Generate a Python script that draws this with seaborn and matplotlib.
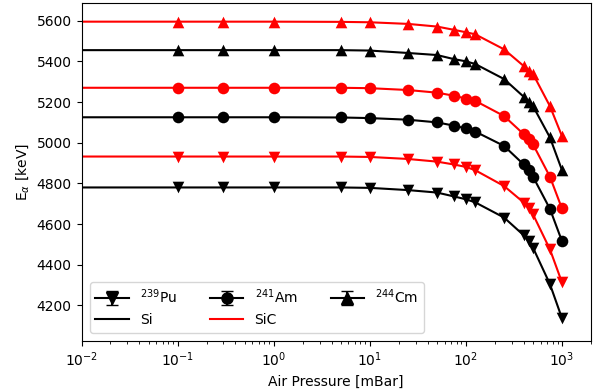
import numpy as np
import pandas as pd
import matplotlib
matplotlib.use("Agg")
import matplotlib.pyplot as plt
import seaborn as sns

# Air pressure values of the measured points [mBar]
pressure = [0.1, 0.3, 1, 5, 10, 25, 50, 75, 100, 125, 250, 400, 450, 500, 750, 1000]
# start of the curves at the left edge of the axis
line_start = 0.01

pu_si = [4780, 4780, 4780, 4780, 4778, 4767, 4755, 4736, 4722, 4707, 4632, 4545, 4515, 4484, 4305, 4138]
pu_sic = [4932, 4932, 4932, 4932, 4930, 4920, 4907, 4893, 4881, 4865, 4787, 4706, 4680, 4648, 4476, 4314]
am_si = [5125, 5125, 5125, 5124, 5121, 5113, 5100, 5084, 5070, 5055, 4984, 4893, 4866, 4833, 4675, 4517]
am_sic = [5270, 5270, 5270, 5270, 5268, 5259, 5246, 5231, 5217, 5206, 5131, 5042, 5016, 4992, 4833, 4677]
cm_si = [5455, 5455, 5455, 5455, 5453, 5441, 5431, 5411, 5400, 5387, 5313, 5226, 5202, 5180, 5026, 4866]
cm_sic = [5595, 5595, 5595, 5594, 5592, 5584, 5571, 5555, 5543, 5533, 5459, 5377, 5354, 5338, 5180, 5033]

isotope_labels = [r"$^{239}$Pu", r"$^{241}$Am", r"$^{244}$Cm"]
detector_labels = ["Si", "SiC"]

series = [
    (pu_si, "v", "black"), (pu_sic, "v", "red"),
    (am_si, "o", "black"), (am_sic, "o", "red"),
    (cm_si, "^", "black"), (cm_sic, "^", "red"),
]

fig = plt.figure(figsize=(5.95, 3.92), dpi=100)
ax = fig.add_axes([0.137, 0.130, 0.856, 0.863])

for vals, mk, col in series:
    xl = [line_start] + pressure
    yl = [vals[0]] + vals
    sns.lineplot(x=xl, y=yl, color=col, lw=1.5, ax=ax, legend=False,
                 estimator=None, sort=False)
    sns.scatterplot(x=pressure, y=vals, marker=mk, s=70, color=col,
                    edgecolor=col, linewidth=0, ax=ax, legend=False, zorder=3)

ax.set_xscale("log")
ax.set_xlim(0.01, 2000)
ax.set_ylim(4025, 5688)
ax.set_yticks([4200, 4400, 4600, 4800, 5000, 5200, 5400, 5600])
ax.set_xlabel("Air Pressure [mBar]", fontsize=10)
ax.set_ylabel(r"E$_\alpha$ [keV]", fontsize=10)
ax.tick_params(labelsize=10)

# legend handles
h_iso = []
for lab, mk in zip(isotope_labels, ["v", "o", "^"]):
    h = ax.errorbar([np.nan], [np.nan], yerr=[1.0], fmt=mk + "-", color="black",
                    markersize=8, capsize=4, lw=1.5, label=lab)
    h_iso.append(h)
h_det = []
for lab, col in zip(detector_labels, ["black", "red"]):
    (l,) = ax.plot([np.nan], [np.nan], color=col, lw=1.5, label=lab)
    h_det.append(l)

handles = [h_iso[0], h_det[0], h_iso[1], h_det[1], h_iso[2]]
labels = [isotope_labels[0], detector_labels[0], isotope_labels[1], detector_labels[1], isotope_labels[2]]
ax.legend(handles, labels, ncol=3, loc="lower left", fontsize=10,
          handlelength=2.4, borderaxespad=0.6, columnspacing=2.4)

fig.savefig("out.png", dpi=100)
